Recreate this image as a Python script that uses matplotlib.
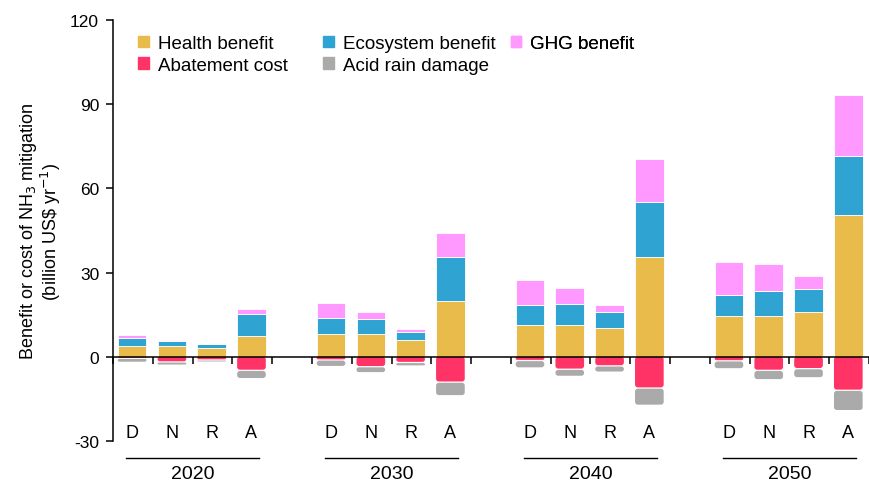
import numpy as np
import matplotlib.pyplot as plt
from matplotlib.patches import Patch, FancyBboxPatch

plt.rcParams['font.family'] = ['Liberation Sans', 'DejaVu Sans']
plt.rcParams['axes.unicode_minus'] = False

# ---------------- data (billion US$ per year) ----------------
years = ['2020', '2030', '2040', '2050']
scenarios = ['D', 'N', 'R', 'A']

# one value per bar, ordered 2020 D,N,R,A, 2030 D,N,R,A, ...
health = [4.0, 3.7, 3.2, 7.5,
          8.1, 8.1, 5.9, 20.0,
          11.3, 11.3, 10.1, 35.4,
          14.5, 14.5, 15.8, 50.5]
ecosystem = [2.7, 2.1, 1.2, 7.6,
             5.8, 5.4, 3.1, 15.5,
             7.1, 7.5, 5.8, 19.7,
             7.5, 9.0, 8.4, 21.2]
ghg = [0.9, 0.3, 0.2, 1.9,
       5.3, 2.6, 0.8, 8.5,
       8.8, 5.7, 2.6, 15.2,
       11.8, 9.6, 4.6, 21.7]
abatement = [-0.3, -1.6, -0.9, -4.6,
             -0.9, -3.3, -1.8, -8.8,
             -1.1, -4.2, -3.0, -10.9,
             -1.2, -4.6, -4.0, -11.7]
acid_rain = [-1.0, -0.7, -0.3, -2.5,
             -1.9, -1.7, -0.8, -4.4,
             -2.2, -2.1, -1.8, -5.7,
             -2.4, -2.9, -2.8, -6.8]

c_health = '#E9BB4B'
c_eco = '#2FA3D1'
c_ghg = '#FF99FF'
c_abate = '#FF3366'
c_acid = '#AAAAAA'

# ---------------- positions ----------------
group_gap = 5
x = np.array([g * group_gap + k for g in range(len(years)) for k in range(len(scenarios))], dtype=float)
w = 0.72

health = np.array(health)
ecosystem = np.array(ecosystem)
ghg = np.array(ghg)
abatement = np.array(abatement)
acid_rain = np.array(acid_rain)

fig = plt.figure(figsize=(8.69, 4.85), dpi=100)
ax = fig.add_axes([113 / 869, 1 - 442 / 485, (869 - 113) / 869, (442 - 21) / 485])
ax.set_xlim(-0.474, 18.37)
ax.set_ylim(-30, 120)


def round_bars(container, r=0.07, aspect=14.3):
    # swap the plain rectangles of a bar container for rounded boxes
    for rect in container:
        x0, y0 = rect.get_x(), rect.get_y()
        bw, bh = rect.get_width(), rect.get_height()
        if bh < 0:
            y0, bh = y0 + bh, -bh
        rr = min(r, bw / 2, bh / aspect / 2)
        box = FancyBboxPatch((x0, y0), bw, bh,
                             boxstyle='round,pad=0,rounding_size=%f' % rr,
                             mutation_aspect=aspect,
                             facecolor=rect.get_facecolor(), edgecolor='none',
                             zorder=2)
        ax.add_patch(box)
        rect.remove()


kw = dict(width=w, edgecolor='white', linewidth=0.6, zorder=2)
ax.bar(x, health, color=c_health, **kw)
ax.bar(x, ecosystem, bottom=health, color=c_eco, **kw)
ax.bar(x, ghg, bottom=health + ecosystem, color=c_ghg, **kw)
b_ab = ax.bar(x, abatement, width=w, color=c_abate)
b_ac = ax.bar(x, acid_rain, bottom=abatement - 0.45, width=w, color=c_acid)
round_bars(b_ab)
round_bars(b_ac)

ax.set_yticks([-30, 0, 30, 60, 90, 120])
ax.tick_params(axis='y', labelsize=12.5, length=5, width=1.1, pad=5)

# zero line with small ticks between bars
ax.spines['bottom'].set_position(('data', 0))
ax.spines['top'].set_visible(False)
ax.spines['right'].set_visible(False)
ax.spines['left'].set_linewidth(1.1)
ax.spines['bottom'].set_linewidth(1.1)
ax.spines['bottom'].set_zorder(3)
bticks = [g * group_gap + k - 0.48 for g in range(len(years)) for k in range(len(scenarios) + 1)]
ax.set_xticks(bticks)
ax.set_xticklabels([])
ax.tick_params(axis='x', direction='out', length=5, width=1.1)

# scenario letters and year labels under the plot
for g, yr in enumerate(years):
    for k, s in enumerate(scenarios):
        ax.text(g * group_gap + k, -27.1, s, ha='center', va='center', fontsize=13)
    x0 = g * group_gap
    ax.plot([x0 - 0.15, x0 + 3.2], [-36, -36], color='black', lw=1, clip_on=False)
    ax.text(x0 + 1.52, -41.7, yr, ha='center', va='center', fontsize=14)

ax.set_ylabel('Benefit or cost of NH$_3$ mitigation\n(billion US\\$ yr$^{-1}$)',
              fontsize=13, linespacing=1.0)
ax.yaxis.set_label_coords(-0.066, 0.5)

# legend: three columns placed separately
cols = [([c_health, c_abate], ['Health benefit', 'Abatement cost'], 0.0238),
        ([c_eco, c_acid], ['Ecosystem benefit', 'Acid rain damage'], 0.2685),
        ([c_ghg], ['GHG benefit'], 0.516)]
for colors, labels, xa in cols:
    hs = [Patch(color=c, label=l) for c, l in zip(colors, labels)]
    leg = ax.legend(handles=hs, loc='upper left', bbox_to_anchor=(xa, 0.982),
                    frameon=False, fontsize=13.5, handlelength=0.55, handleheight=0.55,
                    handletextpad=0.5, labelspacing=0.25, borderaxespad=0)
    ax.add_artist(leg)

fig.savefig('out.png', dpi=100)
